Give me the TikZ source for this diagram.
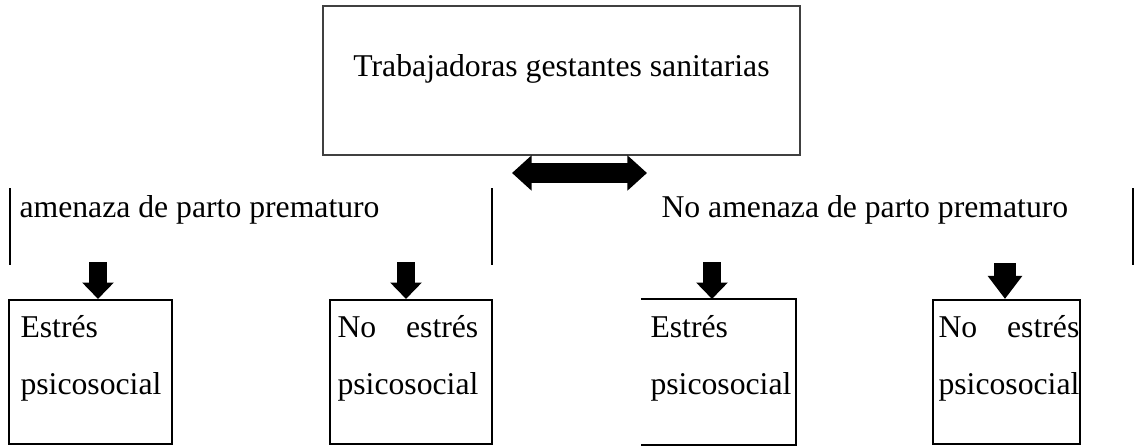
\documentclass[tikz,border=0pt]{standalone}
\usepackage{fontspec}
\setmainfont{Liberation Serif}
\usetikzlibrary{arrows.meta,positioning}

\tikzset{
    topbox/.style = {draw = black!75, line width = 0.5pt, minimum width = 180.5pt, minimum height = 56.4pt, inner sep = 0pt},
    stressbox/.style = {line width = 0.8pt, minimum width = #1, minimum height = 54.5pt, inner sep = 0pt},
    boxline/.style = {line width = 0.8pt},
    boxtext/.style = {anchor = north west, inner sep = 0pt, text width = 53.3pt, align = left, font = \fontsize{12pt}{21.6pt}\selectfont},
    plaintext/.style = {inner sep = 0pt, font = \fontsize{12pt}{14pt}\selectfont},
    sideline/.style = {line width = 0.6pt},
    dblarrow/.style = {line width = 7.2pt, {Triangle[width = 12.9pt, length = 7.4pt]}-{Triangle[width = 12.9pt, length = 7.4pt]}},
    downarrow/.style = {line width = 7pt, -{Triangle[width = 11.6pt, length = 6.2pt]}},
    bigdownarrow/.style = {line width = 8pt, -{Triangle[width = 12.5pt, length = 8.7pt]}}
}

\begin{document}
\begin{tikzpicture}[x = 0.3785pt, y = -0.3785pt]
    \useasboundingbox (0, 0) rectangle (1138, 446);
    % top box
    \node [topbox] (top) at (561.5, 80.5) {};
    \node [plaintext] (toptext) at (561.5, 69) {Trabajadoras gestantes sanitarias};
    % double arrow under the top box
    \coordinate (dl) at (512, 173);
    \coordinate (dr) at (647, 173);
    \draw [dblarrow] (dl) to (dr);
    % the two groups
    \draw [sideline] (10, 188) to (10, 265);
    \draw [sideline] (492, 188) to (492, 265);
    \draw [sideline] (1133, 188) to (1133, 265);
    \node [plaintext, anchor = west] (app) at (19, 210) {amenaza de parto prematuro};
    \node [plaintext, anchor = west] (noapp) at (661, 210) {No amenaza de parto prematuro};
    % boxes
    \node [stressbox = 61.7pt, draw] (b1) at (90.5, 372) {};
    \node [stressbox = 61.3pt, draw] (b2) at (411, 372) {};
    \node [stressbox = 57.9pt] (b3) at (718.5, 372) {};
    \node [stressbox = 55.6pt, draw] (b4) at (1006.5, 372) {};
    \draw [boxline] (b3.north west) to (b3.north east) to (b3.south east) to (b3.south west);
    \node [boxtext] (t1) at (20, 315) {Estrés\\psicosocial};
    \node [boxtext] (t2) at (337, 315) {No\hfill estrés\\psicosocial};
    \node [boxtext] (t3) at (650, 315) {Estrés\\psicosocial};
    \node [boxtext] (t4) at (938, 315) {No\hfill estrés\\psicosocial};
    % arrows into the boxes
    \coordinate (a1) at (98, 262);
    \coordinate (a2) at (406, 262);
    \coordinate (a3) at (712, 262);
    \coordinate (a4) at (1005, 263);
    \draw [downarrow] (a1) to (a1 |- b1.north);
    \draw [downarrow] (a2) to (a2 |- b2.north);
    \draw [downarrow] (a3) to (a3 |- b3.north);
    \draw [bigdownarrow] (a4) to (a4 |- b4.north);
\end{tikzpicture}
\end{document}
